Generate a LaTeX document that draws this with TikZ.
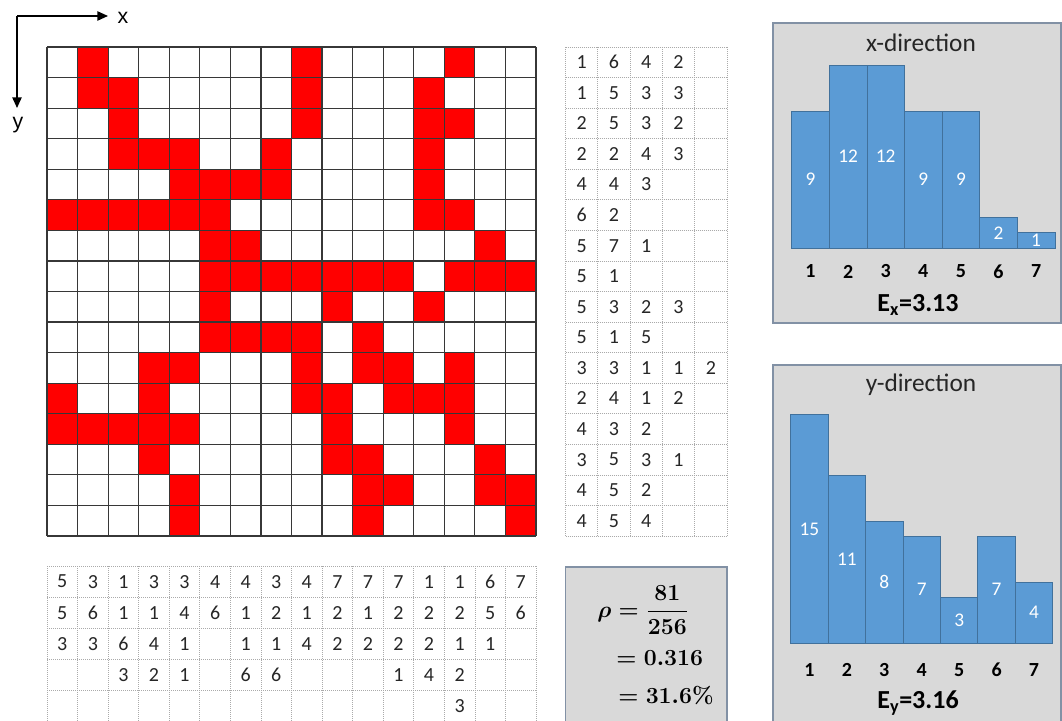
\documentclass[tikz,border=0pt]{standalone}
\usepackage{amsmath}
\usepackage[no-math]{fontspec}
\setmainfont{Carlito}
\newfontfamily\arialf{Liberation Sans}
\usetikzlibrary{arrows.meta}
\definecolor{cellred}{RGB}{255,0,0}
\definecolor{barblue}{RGB}{91,155,213}
\definecolor{baredge}{RGB}{65,113,156}
\definecolor{panelgray}{RGB}{217,217,217}
\definecolor{paneledge}{RGB}{130,145,165}
\definecolor{gridgray}{RGB}{55,55,55}
\definecolor{tabgray}{RGB}{170,170,170}
\definecolor{txtdark}{RGB}{38,38,38}
\begin{document}
\begin{tikzpicture}[x=0.75pt,y=-0.75pt,
  mgrid/.style={gridgray,line width=0.9pt},
  tgrid/.style={tabgray,line width=0.5pt,densely dotted},
  num/.style={inner sep=0pt,text=txtdark,font=\fontsize{15}{17}\selectfont},
  panel/.style={fill=panelgray,draw=paneledge,line width=0.8pt},
  barbox/.style={fill=barblue,draw=baredge,line width=0.6pt},
  barlbl/.style={inner sep=0pt,text=white,font=\fontsize{14.5}{16}\selectfont},
  axnum/.style={inner sep=0pt,font=\bfseries\fontsize{15}{17}\selectfont},
  ptitle/.style={inner sep=0pt,text=txtdark,font=\fontsize{19}{21}\selectfont},
  evalue/.style={inner sep=0pt,font=\bfseries\fontsize{19.5}{21}\selectfont},
  axarrow/.style={line width=1.1pt,-{Triangle[length=8pt,width=7pt]}},
  axlbl/.style={inner sep=0pt,font=\arialf\fontsize{16}{18}\selectfont},
  mathlbl/.style={inner sep=0pt,anchor=west,font=\boldmath\fontsize{17.5}{20}\selectfont}]
\useasboundingbox (0,0) rectangle (1062,720);
\def\cs{30.5625}
% ---------- axes ----------
\coordinate (o) at (17,16);
\coordinate (xe) at (108,16);
\coordinate (ye) at (17,108);
\draw[axarrow] (o) -- (xe);
\draw[axarrow] (o) -- (ye);
\node[axlbl] (xl) at (123,18) {x};
\node[axlbl] (yl) at (18,125) {y};
% ---------- main grid ----------
\foreach \r/\L in {0/{1,8,13},1/{1,2,8,12},2/{2,8,12,13},3/{2,3,4,7,12},
  4/{4,5,6,7,12},5/{0,1,2,3,4,5,12,13},6/{5,6,14},7/{5,6,7,8,9,10,11,13,14,15},
  8/{5,9,12},9/{5,6,7,8,10},10/{3,4,8,10,11,13},11/{0,3,8,9,11,12,13},
  12/{0,1,2,3,4,9,13},13/{3,9,10,14},14/{4,10,11,14,15},15/{4,10,15}}{
  \foreach \c in \L {
    \fill[cellred] ({47+\c*\cs},{47+\r*\cs}) rectangle ++(\cs,\cs);
  }
}
\foreach \i in {0,...,16}{
  \draw[mgrid] ({47+\i*\cs},47) -- ({47+\i*\cs},536);
  \draw[mgrid] (47,{47+\i*\cs}) -- (536,{47+\i*\cs});
}
% ---------- right table (row runs) ----------
\def\rw{32.3}
\foreach \i in {0,...,5}{
  \draw[tgrid] ({565.5+\i*\rw},47) -- ({565.5+\i*\rw},536);
}
\foreach \i in {0,...,16}{
  \draw[tgrid] (565.5,{47+\i*\cs}) -- (727,{47+\i*\cs});
}
\foreach \r/\L in {0/{1,6,4,2},1/{1,5,3,3},2/{2,5,3,2},3/{2,2,4,3},4/{4,4,3},
  5/{6,2},6/{5,7,1},7/{5,1},8/{5,3,2,3},9/{5,1,5},10/{3,3,1,1,2},11/{2,4,1,2},
  12/{4,3,2},13/{3,5,3,1},14/{4,5,2},15/{4,5,4}}{
  \foreach \v [count=\k from 0] in \L {
    \node[num] (rt-\r-\k) at ({565.5+(\k+0.5)*\rw},{47+(\r+0.5)*\cs}) {\v};
  }
}
% ---------- bottom table (column runs) ----------
\def\bh{31.2}
\foreach \i in {0,...,16}{
  \draw[tgrid] ({47+\i*\cs},566) -- ({47+\i*\cs},722);
}
\foreach \i in {0,...,5}{
  \draw[tgrid] (47,{566+\i*\bh}) -- (536,{566+\i*\bh});
}
\foreach \c/\L in {0/{5,5,3},1/{3,6,3},2/{1,1,6,3},3/{3,1,4,2},4/{3,4,1,1},
  5/{4,6},6/{4,1,1,6},7/{3,2,1,6},8/{4,1,4},9/{7,2,2},10/{7,1,2},11/{7,2,2,1},
  12/{1,2,2,4},13/{1,2,1,2,3},14/{6,5,1},15/{7,6}}{
  \foreach \v [count=\k from 0] in \L {
    \node[num] (bt-\c-\k) at ({47+(\c+0.5)*\cs},{566+(\k+0.5)*\bh}) {\v};
  }
}
% ---------- density box ----------
\draw[panel] (565.5,567) rectangle (727,730);
\node[mathlbl] (rho1) at (597,610) {$\rho=\dfrac{81}{256}$};
\node[mathlbl] (rho2) at (616,658) {$=0.316$};
\node[mathlbl] (rho3) at (618,695) {$=31.6\%$};
% ---------- x-direction histogram ----------
\draw[panel] (773,23) rectangle (1061,323);
\node[ptitle] (xtitle) at (921,43) {x-direction};
\foreach \v [count=\k] in {9,12,12,9,9,2,1}{
  \draw[barbox] ({791.7+(\k-1)*37.6},248) rectangle ++(37.6,{-\v*15.22});
  \node[barlbl] (xb\k) at ({791.7+(\k-0.5)*37.6},{248-\v*7.61}) {\v};
  \node[axnum] (xa\k) at ({791.7+(\k-0.5)*37.6},271.5) {\k};
}
\node[evalue] (ex) at (918,305) {E\textsubscript{x}=3.13};
% ---------- y-direction histogram ----------
\draw[panel] (773,365) rectangle (1061,730);
\node[ptitle] (ytitle) at (921,385) {y-direction};
\foreach \v [count=\k] in {15,11,8,7,3,7,4}{
  \draw[barbox] ({790.7+(\k-1)*37.43},643) rectangle ++(37.43,{-\v*15.22});
  \node[barlbl] (yb\k) at ({790.7+(\k-0.5)*37.43},{643-\v*7.61}) {\v};
  \node[axnum] (ya\k) at ({790.7+(\k-0.5)*37.43},670) {\k};
}
\node[evalue] (ey) at (918,703) {E\textsubscript{y}=3.16};
\end{tikzpicture}
\end{document}
